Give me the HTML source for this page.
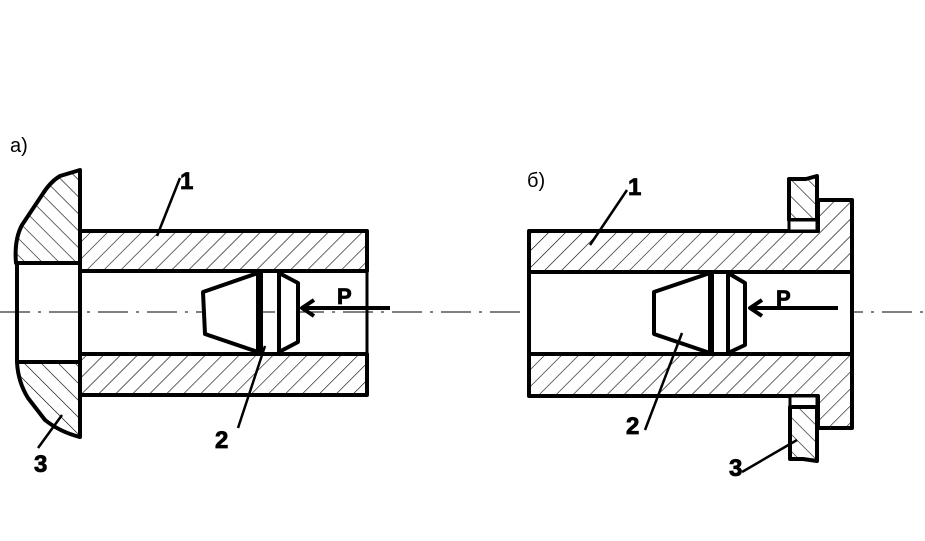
<!DOCTYPE html>
<html><head><meta charset="utf-8"><style>body{margin:0;background:#fff}svg{display:block}</style></head><body>
<svg width="925" height="541" viewBox="0 0 925 541" xmlns="http://www.w3.org/2000/svg">
<defs>
<pattern id="hf" patternUnits="userSpaceOnUse" width="12" height="12" patternTransform="rotate(45)"><line x1="0" y1="0" x2="0" y2="12" stroke="#000" stroke-width="1.2"/></pattern>
<pattern id="hb" patternUnits="userSpaceOnUse" width="12" height="12" patternTransform="rotate(-45)"><line x1="0" y1="0" x2="0" y2="12" stroke="#000" stroke-width="1.2"/></pattern>
</defs>
<g fill="none" stroke="#000" stroke-linejoin="round">
<line x1="0" y1="312" x2="925" y2="312" stroke-width="1" stroke-dasharray="30,8,3,8"/>
<!-- LEFT -->
<path d="M80,170 L60,176 Q50,182 42,195 L22,225 Q14,240 16,263 L80,263 Z" fill="url(#hb)" stroke-width="4"/>
<path d="M17,362 L80,362 L80,437 Q60,432 45,420 L28,398 Q18,382 17,362 Z" fill="url(#hb)" stroke-width="4"/>
<line x1="17" y1="263" x2="17" y2="362" stroke-width="4"/>
<rect x="80" y="231" width="287" height="40" fill="url(#hf)" stroke-width="4"/>
<rect x="80" y="354" width="287" height="41" fill="url(#hf)" stroke-width="4"/>
<line x1="80" y1="271" x2="80" y2="354" stroke-width="4"/>
<line x1="367" y1="271" x2="367" y2="354" stroke-width="3"/>
<path d="M203,292 L258,273 L258,352 L205,334 Z" stroke-width="4" fill="#fff"/>
<line x1="261" y1="273" x2="261" y2="352" stroke-width="4"/>
<path d="M279,273 L298,283 L298,342 L279,352 Z" stroke-width="4" fill="#fff"/>
<line x1="390" y1="308" x2="302" y2="308" stroke-width="4"/>
<path d="M314,300 L302,308 L314,316" stroke-width="4"/>
<line x1="180" y1="178" x2="157" y2="236" stroke-width="2.5"/>
<line x1="265" y1="346" x2="238" y2="428" stroke-width="2.5"/>
<line x1="62" y1="415" x2="38" y2="448" stroke-width="2.5"/>
<!-- RIGHT -->
<path d="M529,231 L818,231 L818,200 L852,200 L852,428 L818,428 L818,396 L529,396 Z" fill="url(#hf)" stroke="none"/>
<rect x="529" y="272" width="323" height="82" fill="#fff" stroke="none"/>
<path d="M529,231 L818,231 L818,200 L852,200 L852,428 L818,428 L818,396 L529,396 Z" stroke-width="4"/>
<line x1="529" y1="272" x2="852" y2="272" stroke-width="4"/>
<line x1="529" y1="354" x2="852" y2="354" stroke-width="4"/>
<line x1="529" y1="231" x2="529" y2="396" stroke-width="4"/>
<path d="M789,179 L806,179 L817,176 L817,220 L789,220 Z" fill="url(#hb)" stroke-width="4"/>
<rect x="789" y="220" width="28" height="11" fill="#fff" stroke-width="3"/>
<rect x="790" y="396" width="27" height="11" fill="#fff" stroke-width="3"/>
<path d="M790,407 L817,407 L817,461 L803,459 L790,459 Z" fill="url(#hb)" stroke-width="4"/>
<path d="M654,292 L710,273 L710,353 L654,334 Z" stroke-width="4" fill="#fff"/>
<line x1="712" y1="273" x2="712" y2="353" stroke-width="4"/>
<path d="M728,273 L745,283 L745,345 L728,353 Z" stroke-width="4" fill="#fff"/>
<line x1="838" y1="308" x2="750" y2="308" stroke-width="4"/>
<path d="M762,300 L750,308 L762,316" stroke-width="4"/>
<line x1="627" y1="190" x2="590" y2="245" stroke-width="2.5"/>
<line x1="682" y1="333" x2="645" y2="430" stroke-width="2.5"/>
<line x1="797" y1="440" x2="742" y2="472" stroke-width="2.5"/>
</g>
<g font-family="Liberation Sans, sans-serif" fill="#000">
<text x="10" y="152" font-size="20">а)</text>
<text x="527" y="187" font-size="20">б)</text>
<g font-weight="bold" font-size="24" stroke="#000" stroke-width="0.8">
<text x="180" y="189">1</text>
<text x="215" y="448">2</text>
<text x="34" y="472">3</text>
<text x="337" y="304" font-size="22">P</text>
<text x="628" y="195">1</text>
<text x="626" y="434">2</text>
<text x="729" y="476">3</text>
<text x="776" y="306" font-size="22">P</text>
</g>
</g>
</svg>
</body></html>
